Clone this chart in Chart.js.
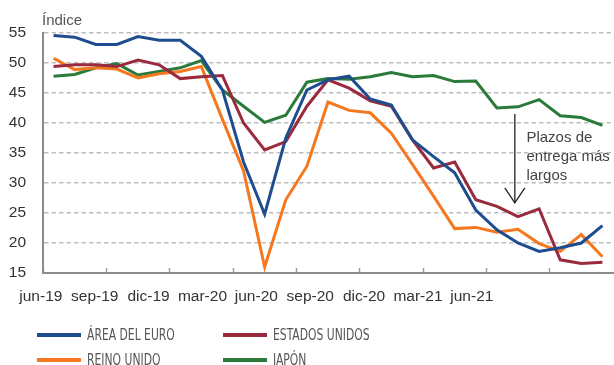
<!DOCTYPE html>
<html lang="es">
<head>
<meta charset="utf-8">
<script src="https://cdn.jsdelivr.net/npm/chart.js@4.4.1/dist/chart.umd.min.js"></script>
<style>
  html, body { margin: 0; padding: 0; background: #fff; }
  #wrap { position: relative; width: 614px; height: 365px; overflow: hidden; }
  #plazosChart { position: absolute; left: 0; top: 0; }
  #legend {
    position: absolute; left: 37px; top: 322px;
    display: grid; grid-template-columns: 186px 186px; grid-auto-rows: 25px;
  }
  .item { display: flex; align-items: center; height: 25px; }
  .swatch { width: 44px; height: 4px; margin-right: 6px; flex: none; }
  .txt {
    font-family: "Liberation Sans Narrow", "DejaVu Sans Condensed", sans-serif;
    font-size: 15px; color: #555; white-space: nowrap;
    display: inline-block; transform: scaleX(0.8); transform-origin: left center;
  }
</style>
</head>
<body>
<div id="wrap">
  <canvas id="plazosChart" width="614" height="365"></canvas>
  <div id="legend"></div>
</div>
<script>
// meses de jun-19 a ago-21
const months = ['jun-19', 'jul-19', 'ago-19', 'sep-19', 'oct-19', 'nov-19', 'dic-19',
  'ene-20', 'feb-20', 'mar-20', 'abr-20', 'may-20', 'jun-20', 'jul-20', 'ago-20', 'sep-20',
  'oct-20', 'nov-20', 'dic-20', 'ene-21', 'feb-21', 'mar-21', 'abr-21', 'may-21', 'jun-21',
  'jul-21', 'ago-21'];
const tickLabels = ['jun-19', 'sep-19', 'dic-19', 'mar-20', 'jun-20', 'sep-20', 'dic-20', 'mar-21', 'jun-21'];

const areaEuro = [54.6, 54.3, 53.1, 53.1, 54.4, 53.8, 53.8, 51.1, 45.5, 33.5, 24.8, 37.5, 45.5, 47.2,
  47.8, 44.0, 43.0, 37.2, 34.4, 31.7, 25.5, 22.2, 20.0, 18.6, 19.2, 20.0, 22.9];
const estadosUnidos = [49.4, 49.7, 49.7, 49.4, 50.5, 49.7, 47.4, 47.7, 47.9, 40.0, 35.5, 36.9, 42.8, 47.2,
  45.8, 43.7, 42.8, 37.2, 32.5, 33.5, 27.2, 26.1, 24.4, 25.7, 17.2, 16.6, 16.8];
const reinoUnido = [50.8, 48.9, 49.2, 49.0, 47.5, 48.2, 48.6, 49.4, 40.6, 32.0, 16.0, 27.2, 32.8, 43.5,
  42.1, 41.7, 38.3, 33.1, 27.8, 22.4, 22.6, 21.8, 22.3, 19.9, 18.6, 21.4, 17.7];
const japon = [47.8, 48.1, 49.2, 49.9, 48.0, 48.6, 49.2, 50.4, 45.5, 42.8, 40.1, 41.3, 46.8, 47.4,
  47.3, 47.7, 48.4, 47.7, 47.9, 46.9, 47.0, 42.5, 42.7, 43.9, 41.2, 40.9, 39.6];

const noteLines = ['Plazos de', 'entrega más', 'largos'];

const FONT = '"Liberation Sans", Arial, sans-serif';

// flecha y texto de la anotación, en coordenadas de los ejes
const arrowAt = 21.85, arrowFrom = 41.5, arrowTo = 26.7;
const noteAt = 22.4, noteTop = 36.8;

const notes = {
  id: 'notes',
  afterDraw(chart) {
    const { ctx, chartArea, scales: { x, y } } = chart;
    ctx.save();
    ctx.font = '15px ' + FONT;
    ctx.textAlign = 'left';
    ctx.textBaseline = 'alphabetic';
    ctx.fillStyle = '#555';
    ctx.fillText('Índice', chartArea.left - 1, 25);

    const ax = x.getPixelForValue(arrowAt);
    const y0 = y.getPixelForValue(arrowFrom);
    const y1 = y.getPixelForValue(arrowTo);
    ctx.strokeStyle = '#222';
    ctx.lineWidth = 1.3;
    ctx.beginPath();
    ctx.moveTo(ax, y0);
    ctx.lineTo(ax, y1);
    ctx.stroke();
    ctx.beginPath();
    ctx.moveTo(ax - 10, y1 - 15);
    ctx.lineTo(ax, y1);
    ctx.lineTo(ax + 10, y1 - 15);
    ctx.stroke();

    ctx.fillStyle = '#444';
    const tx = x.getPixelForValue(noteAt);
    const ty = y.getPixelForValue(noteTop);
    noteLines.forEach((t, i) => ctx.fillText(t, tx, ty + i * 19));
    ctx.restore();
  }
};

const line = (label, data, color) => ({
  label, data,
  borderColor: color, backgroundColor: color,
  borderWidth: 3, pointRadius: 0, tension: 0, fill: false
});

const chart = new Chart(document.getElementById('plazosChart'), {
  type: 'line',
  data: {
    labels: months,
    datasets: [
      line('ÁREA DEL EURO', areaEuro, '#1e4d8f'),
      line('ESTADOS UNIDOS', estadosUnidos, '#9a2a3d'),
      line('REINO UNIDO', reinoUnido, '#f5781f'),
      line('JAPÓN', japon, '#2a7a3a')
    ]
  },
  options: {
    responsive: false,
    animation: false,
    layout: { padding: { top: 33, right: 1, bottom: 60, left: 0 } },
    plugins: { legend: { display: false }, tooltip: { enabled: false } },
    scales: {
      x: {
        type: 'category',
        offset: true,
        weight: 0,
        afterFit: s => { s.height = 0; },
        ticks: { display: false },
        grid: {
          offset: true,
          drawOnChartArea: false,
          tickLength: -5,
          tickWidth: 1.5,
          color: c => c.index % 3 === 0 ? '#a0a0a0' : 'rgba(0,0,0,0)'
        },
        border: { color: '#8c8c8c', width: 2 }
      },
      xl: {
        type: 'linear',
        position: 'bottom',
        weight: 1,
        min: 0.04,
        max: 10.62,
        afterBuildTicks: s => { s.ticks = tickLabels.map((_, i) => ({ value: i })); },
        afterFit: s => { s.height = 32; },
        grid: { display: false, drawTicks: false },
        border: { display: false },
        ticks: {
          autoSkip: false, maxRotation: 0, padding: 14,
          color: '#333', font: { family: FONT, size: 15.5 },
          callback: v => tickLabels[v]
        }
      },
      y: {
        min: 15,
        max: 55,
        afterFit: s => { s.width = 43; },
        ticks: { stepSize: 5, padding: 17, color: '#333', font: { family: FONT, size: 15.5 } },
        grid: {
          drawTicks: false,
          lineWidth: 1.5,
          color: c => c.tick && c.tick.value === 15 ? 'rgba(0,0,0,0)' : '#bdbdbd'
        },
        border: { color: '#8c8c8c', width: 2, dash: [4.5, 3] }
      }
    }
  },
  plugins: [notes]
});

// leyenda en dos columnas
const legendBox = document.getElementById('legend');
chart.data.datasets.forEach(ds => {
  const item = document.createElement('div');
  item.className = 'item';
  const sw = document.createElement('span');
  sw.className = 'swatch';
  sw.style.background = ds.borderColor;
  const txt = document.createElement('span');
  txt.className = 'txt';
  txt.textContent = ds.label;
  item.appendChild(sw);
  item.appendChild(txt);
  legendBox.appendChild(item);
});
</script>
</body>
</html>
